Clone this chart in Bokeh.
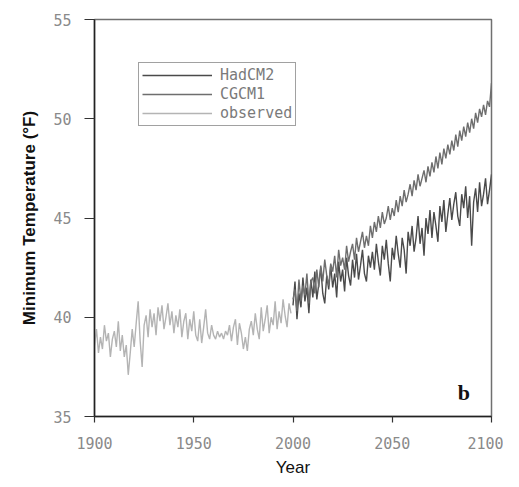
from bokeh.plotting import figure
from bokeh.models import Range1d, FixedTicker, Label, Legend, LegendItem
from bokeh.embed import file_html
from bokeh.resources import INLINE

obs_years = list(range(1900, 2000))
observed = [
    38.6, 39.4, 38.2, 39.0, 38.4, 39.6, 38.8, 39.2, 38.0, 38.9,
    39.3, 38.5, 39.8, 38.3, 39.1, 38.0, 38.6, 37.1, 38.2, 39.4,
    38.5, 39.7, 40.8, 38.8, 37.5, 39.6, 40.1, 39.0, 40.4, 39.5,
    40.2, 39.1, 40.5, 39.8, 40.6, 39.4, 40.0, 40.7, 39.6, 40.3,
    39.2, 40.1, 39.5, 40.4, 39.0, 39.8, 40.2, 38.9, 39.9, 39.3,
    40.3, 39.1, 38.8, 39.9, 38.7, 39.5, 40.4, 39.2, 38.9, 39.6,
    39.1, 38.9, 39.3, 39.0, 39.2, 38.9, 39.3, 39.1, 39.6, 38.8,
    39.5, 39.9, 38.6, 39.7, 39.2, 38.4, 39.0, 38.3, 39.4, 39.8,
    39.1, 40.2, 39.4, 38.9, 40.5, 39.3, 39.9, 40.6, 39.2, 40.0,
    39.6, 40.8, 39.4, 40.3, 39.7, 40.9, 40.1, 39.5, 40.7, 40.2,
]

model_years = list(range(2000, 2101))
hadcm2 = [
    40.6, 41.8, 39.9, 41.2, 40.5, 42.0, 40.8, 41.5, 40.2, 41.9,
    41.0, 42.3, 40.9, 41.7, 42.5, 41.2, 40.7, 42.1, 41.4, 42.6,
    41.5, 42.2, 41.0, 42.8, 41.8, 42.4, 41.3, 43.0, 42.1, 41.6,
    42.9, 42.0, 43.2, 41.9, 42.6, 43.4, 42.2, 41.8, 43.1, 42.5,
    43.3, 42.4, 43.7, 42.8, 42.1, 43.6, 42.9, 43.9, 42.7, 41.8,
    43.5, 42.9, 44.1, 43.2, 42.5, 44.0, 43.4, 42.2, 44.3, 43.6,
    44.6, 43.3, 44.0, 45.1, 43.7, 44.5, 43.1, 45.0, 44.2, 45.4,
    44.0, 45.3, 44.6, 43.8, 45.6, 44.8, 45.9, 44.3, 45.2, 46.0,
    44.9, 45.7, 46.3, 45.1, 44.6, 46.2, 45.5, 46.6, 45.0, 46.1,
    43.6, 45.8, 46.5, 45.3, 46.8, 45.6, 46.2, 47.0, 45.7, 46.4,
    47.2,
]
cgcm1 = [
    40.9, 41.4, 40.3, 41.9, 40.8, 41.6, 41.1, 42.2, 40.7, 41.8,
    42.0, 41.2, 42.4, 41.5, 42.6, 41.8, 42.9, 42.1, 41.6, 42.7,
    42.3, 43.1, 42.0, 43.4, 42.6, 43.0, 42.4, 43.6, 42.8, 43.3,
    43.7, 42.9, 44.0, 43.3, 43.8, 44.3, 43.5, 44.1, 43.6, 44.6,
    44.0, 44.8, 44.3, 45.1, 44.5, 45.3, 44.7, 45.0, 45.6, 44.9,
    45.5, 45.1, 45.9, 45.3, 46.1, 45.6, 46.4, 45.8, 46.2, 46.7,
    46.1, 46.9, 46.4, 47.2, 46.6, 47.0, 47.4, 46.8, 47.6, 47.1,
    47.8, 47.3, 48.1, 47.5, 48.3, 47.7, 48.5, 48.0, 48.7, 48.2,
    48.9, 48.4, 49.2, 48.6, 49.4, 48.9, 49.6, 49.1, 49.8, 49.3,
    50.0, 49.5, 50.3, 49.8, 50.5, 50.1, 50.7, 50.2, 50.9, 50.6,
    51.8,
]

x_ticks = [1900, 1950, 2000, 2050, 2100]
y_ticks = [35, 40, 45, 50, 55]
series_names = ["HadCM2", "CGCM1", "observed"]
series_colors = ["#4a4a4a", "#6e6e6e", "#b4b4b4"]

p = figure(width=503, height=479, output_backend="svg", toolbar_location=None,
           x_range=Range1d(1900, 2100), y_range=Range1d(35, 55),
           min_border_left=94, min_border_right=12, min_border_top=19,
           min_border_bottom=55)

p.background_fill_color = "white"
p.border_fill_color = "white"
p.outline_line_color = "#707070"
p.outline_line_width = 1.5
p.grid.visible = False

r_had = p.line(model_years, hadcm2, line_color=series_colors[0], line_width=1.4)
r_cg = p.line(model_years, cgcm1, line_color=series_colors[1], line_width=1.4)
r_obs = p.line(obs_years, observed, line_color=series_colors[2], line_width=1.4)

for ax in (p.xaxis[0], p.yaxis[0]):
    ax.axis_line_color = "#222222"
    ax.axis_line_width = 1.5
    ax.major_tick_line_color = "#333333"
    ax.major_tick_line_width = 1.2
    ax.minor_tick_line_color = None
    ax.major_label_text_font = "DejaVu Sans Mono"
    ax.major_label_text_font_size = "15px"
    ax.major_label_text_color = "#8a8a8a"

p.xaxis.ticker = FixedTicker(ticks=x_ticks)
p.yaxis.ticker = FixedTicker(ticks=y_ticks)
p.xaxis.major_tick_out = 6
p.xaxis.major_tick_in = 0
p.yaxis.major_tick_out = 10
p.yaxis.major_tick_in = 0
p.xaxis.major_label_standoff = 14
p.yaxis.major_label_standoff = 13

p.xaxis.axis_label = "Year"
p.xaxis.axis_label_text_font = "Liberation Sans"
p.xaxis.axis_label_text_font_style = "normal"
p.xaxis.axis_label_text_font_size = "17px"
p.xaxis.axis_label_text_color = "#111111"
p.xaxis.axis_label_standoff = 6

p.yaxis.axis_label = "Minimum Temperature (°F)"
p.yaxis.axis_label_text_font = "Liberation Sans"
p.yaxis.axis_label_text_font_style = "bold"
p.yaxis.axis_label_text_font_size = "17px"
p.yaxis.axis_label_text_color = "#111111"
p.yaxis.axis_label_standoff = 11

legend = Legend(items=[
    LegendItem(label=series_names[0], renderers=[r_had]),
    LegendItem(label=series_names[1], renderers=[r_cg]),
    LegendItem(label=series_names[2], renderers=[r_obs]),
], location=(44, 290))
legend.label_text_font = "DejaVu Sans Mono"
legend.label_text_font_size = "15px"
legend.label_text_color = "#7a7a7a"
legend.glyph_width = 70
legend.glyph_height = 14
legend.label_height = 14
legend.label_standoff = 8
legend.spacing = 1
legend.padding = 3
legend.margin = 0
legend.border_line_color = "#444444"
legend.border_line_width = 1.3
legend.background_fill_color = "white"
legend.background_fill_alpha = 1
p.add_layout(legend)

p.add_layout(Label(x=2083, y=35.6, text="b", text_font="Liberation Serif",
                   text_font_style="bold", text_font_size="22px",
                   text_color="#111111"))

open("out.html", "w").write(file_html(p, INLINE))
